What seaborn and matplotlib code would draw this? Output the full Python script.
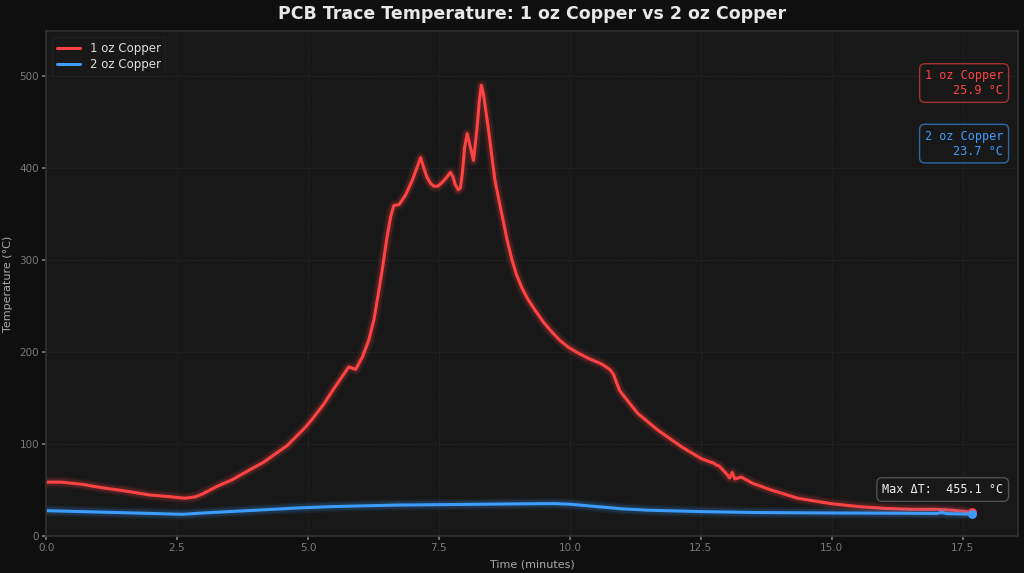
import numpy as np
import pandas as pd
import matplotlib
matplotlib.use("Agg")
import matplotlib.pyplot as plt
import seaborn as sns

# 1 oz copper trace (minutes, deg C)
t_1oz = [0.0, 0.3, 0.7, 1.0, 1.5, 1.98, 2.3, 2.65, 2.85, 3.0, 3.25, 3.55, 3.88, 4.15,
         4.39, 4.6, 4.77, 4.95, 5.09, 5.3, 5.47, 5.65, 5.78, 5.91, 6.04, 6.16, 6.26,
         6.34, 6.42, 6.51, 6.58, 6.64, 6.74, 6.86, 6.99, 7.08, 7.15, 7.21, 7.27, 7.34,
         7.4, 7.48, 7.56, 7.64, 7.72, 7.77, 7.81, 7.87, 7.91, 7.95, 7.99, 8.04, 8.09,
         8.16, 8.23, 8.27, 8.31, 8.35, 8.4, 8.45, 8.57, 8.7, 8.8, 8.89, 8.98, 9.08,
         9.2, 9.34, 9.5, 9.65, 9.8, 9.97, 10.15, 10.35, 10.6, 10.76, 10.83, 10.95,
         11.1, 11.3, 11.68, 12.13, 12.51, 12.75, 12.8, 12.85, 13.0, 13.05, 13.1,
         13.15, 13.27, 13.5, 13.84, 14.35, 15.0, 15.5, 16.0, 16.5, 17.0, 17.3, 17.67]
temp_1oz = [58.5, 58.5, 56, 53, 49, 44.5, 43, 41, 42.5, 46, 53.5, 61, 71.6, 80,
            89.7, 98, 107.7, 118, 127.6, 143, 158, 173, 183.6, 181, 194.5, 212.6, 235,
            262, 290, 325, 347, 359, 360, 370, 386, 400, 411, 400, 390, 383,
            380, 380, 384, 389, 395, 390, 382, 376, 378, 395, 422, 437, 425,
            408, 444, 472, 489.6, 480, 460, 440, 386, 350, 322, 301, 284, 270,
            257, 245, 232, 222, 213, 205, 199, 193, 187, 181, 176, 158,
            147, 133, 115, 97, 84, 79, 77, 76, 67, 63, 69,
            62, 64, 57, 50, 41, 35, 32, 30, 29, 29, 28, 25.9]

# 2 oz copper trace
t_2oz = [0.0, 1.0, 2.0, 2.6, 3.0, 4.0, 4.83, 5.5, 6.73, 8.0, 9.0, 9.7, 10.0,
         10.5, 11.0, 11.5, 12.5, 13.5, 15.0, 16.0, 17.0, 17.1, 17.2, 17.67]
temp_2oz = [27.5, 26, 24.5, 23.5, 25, 28, 30.5, 32, 33.6, 34.3, 34.9, 35.2, 34.5,
            32, 29.5, 28, 26.5, 25.5, 25, 24.8, 24.5, 25.5, 24.3, 23.7]

series = ["1 oz Copper", "2 oz Copper"]
colors = ["#ff4343", "#3d9cff"]

df = pd.concat([
    pd.DataFrame({"time": t_1oz, "temp": temp_1oz, "trace": series[0]}),
    pd.DataFrame({"time": t_2oz, "temp": temp_2oz, "trace": series[1]}),
])

sns.set_theme(style="dark")
plt.rcParams["font.family"] = ["DejaVu Sans"]

fig = plt.figure(figsize=(10.24, 5.73), dpi=100, facecolor="#0f0f0f")
ax = fig.add_axes([0.045, 0.0646, 0.949, 0.881])
ax.set_facecolor("#181818")

for name, col in zip(series, colors):
    sub = df[df["trace"] == name]
    # soft glow underneath
    for lw, a in [(8, 0.08), (5.5, 0.15)]:
        sns.lineplot(data=sub, x="time", y="temp", ax=ax, color=col, lw=lw,
                     alpha=a, legend=False, sort=False,
                     solid_joinstyle="round", solid_capstyle="round")
    sns.lineplot(data=sub, x="time", y="temp", ax=ax, color=col, lw=2.2,
                 label=name, sort=False, solid_joinstyle="round")
    ax.scatter(sub["time"].iloc[-1], sub["temp"].iloc[-1], s=28, color=col, zorder=5)

ax.set_xlim(0, max(t_1oz) * 1.05)
ax.set_ylim(0, max(temp_1oz) * 1.12)
ax.grid(True, color="#262626", linestyle="--", linewidth=0.6)
for s in ax.spines.values():
    s.set_color("#303030")
ax.tick_params(colors="#7a7a7a", labelsize=7.5, length=3, pad=2,
               left=True, bottom=True)
ax.set_xlabel("Time (minutes)", color="#aaaaaa", fontsize=8, labelpad=5)
ax.set_ylabel("Temperature (°C)", color="#aaaaaa", fontsize=8, labelpad=5)
ax.set_title("PCB Trace Temperature: 1 oz Copper vs 2 oz Copper",
             color="#e8e8e8", fontsize=12.5, fontweight="bold", pad=9)

leg = ax.legend(loc="upper left", fontsize=8.5, frameon=True, facecolor="#181818",
                edgecolor="#222222", labelcolor="#dddddd", labelspacing=0.3)
leg.get_frame().set_alpha(0.9)

ypos = [0.925, 0.805]
for name, col, y, vals in zip(series, colors, ypos, [temp_1oz, temp_2oz]):
    ax.text(0.985, y, f"{name}\n{vals[-1]:.1f} °C", transform=ax.transAxes,
            ha="right", va="top", multialignment="right", color=col,
            fontsize=8.5, family="DejaVu Sans Mono",
            bbox=dict(boxstyle="round,pad=0.45", facecolor="#181818",
                      edgecolor=col, alpha=0.6, linewidth=1))

peak_i = int(np.argmax(temp_1oz))
blue_at_peak = np.interp(t_1oz[peak_i], t_2oz, temp_2oz)
max_dt = temp_1oz[peak_i] - blue_at_peak
ax.text(0.985, 0.092, f"Max ΔT:  {max_dt:.1f} °C", transform=ax.transAxes,
        ha="right", va="center", color="#eeeeee", fontsize=8.5,
        family="DejaVu Sans Mono",
        bbox=dict(boxstyle="round,pad=0.45", facecolor="#181818",
                  edgecolor="#505050", linewidth=1))

fig.savefig("out.png", dpi=100, facecolor=fig.get_facecolor())
